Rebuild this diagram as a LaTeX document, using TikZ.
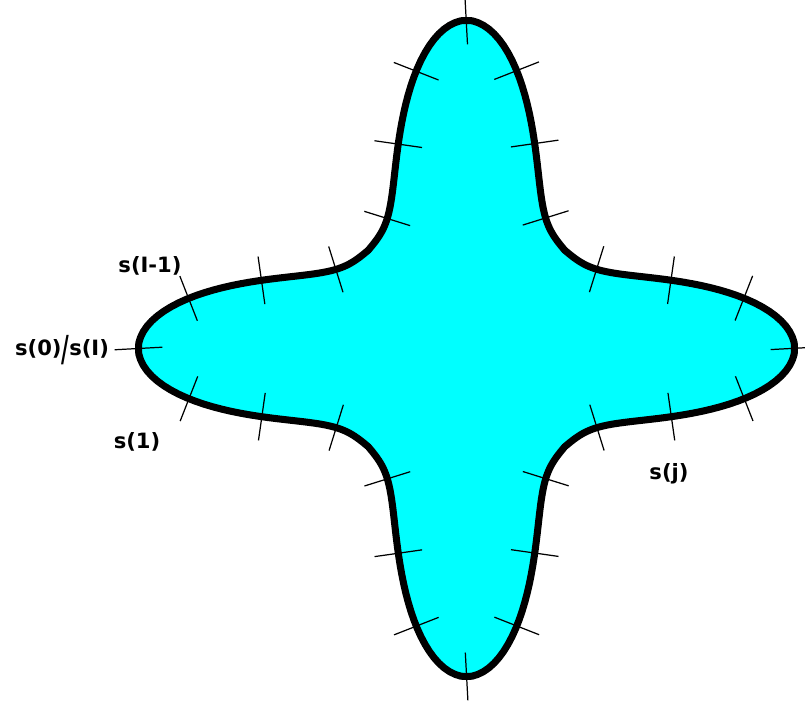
\documentclass[tikz,border=0pt]{standalone}
\usepackage{fontspec}
\setmainfont{DejaVu Sans}
\usetikzlibrary{decorations.markings}
\definecolor{aqua}{RGB}{0,255,255}
\tikzset{
    outline/.style={line width=4pt, fill=aqua, draw=black},
    ticks/.style={decoration={markings,
        mark=between positions 0 and 1 step 0.0357143 with {\draw[line width=0.7pt] (0,-0.48cm) -- (0,0.48cm);}}},
    lbl/.style={font=\fontsize{12}{14}\selectfont\bfseries, inner sep=0pt}
}
\begin{document}
\begin{tikzpicture}[x=0.02cm, y=0.02cm,
    declare function={armang(\t)=acos(abs(cos(2*\t)))/2; starr(\t)=138+190*exp(-(armang(\t)/19.5)^2);}]
    \useasboundingbox (0,0) rectangle (805,705);
    \coordinate (C) at (466.5,356.5);

    \draw[outline, postaction={decorate, ticks}] plot[domain=180:540, samples=361, variable=\t]
        ({466.5+starr(\t)*cos(\t)}, {356.5+starr(\t)*sin(\t)}) -- cycle;

    \node[lbl] (sLast) at (150,439) {s(I-1)};
    \node[lbl] (sZero) at (62,355) {s(0)\raisebox{-0.5ex}{\scalebox{1}[1.7]{/}}s(I)};
    \node[lbl] (sOne) at (137,263) {s(1)};
    \node[lbl] (sJ) at (669,231) {s(j)};
\end{tikzpicture}
\end{document}
